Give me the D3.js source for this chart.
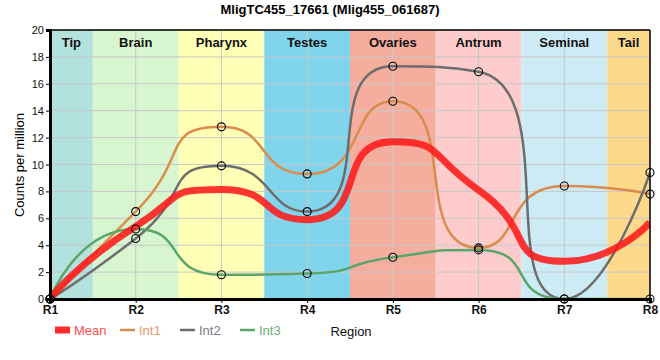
<!DOCTYPE html>
<html><head><meta charset="utf-8">
<script src="https://cdn.jsdelivr.net/npm/d3@7"></script>
<style>body{margin:0;background:#fff}svg{font-family:"Liberation Sans",Arial,sans-serif}</style>
</head><body><svg id="c" width="660" height="360"></svg>
<script>
const categories = ["R1","R2","R3","R4","R5","R6","R7","R8"];
const regions = ["Tip","Brain","Pharynx","Testes","Ovaries","Antrum","Seminal","Tail"];
const regionColors = ["#b3e1de","#d7f6cf","#ffffb5","#80d4ec","#f5ad9e","#fecccc","#cdebf5","#fdd98b"];
const mean = [0, 5.4, 8.15, 5.9, 11.7, 8.1, 2.8, 5.7];
const int1 = [0, 6.5, 12.8, 9.3, 14.7, 3.8, 8.4, 7.8];
const int2 = [0, 4.5, 9.9, 6.5, 17.3, 16.9, 0, 9.4];
const int3 = [0, 5.2, 1.8, 1.9, 3.1, 3.65, 0, 0];
const yTicks = [0,2,4,6,8,10,12,14,16,18,20];

const svg = d3.select("#c");
const L=50, R=650, T=30, B=299;
const x = d3.scaleLinear().domain([0, categories.length-1]).range([L,R]);
const y = d3.scaleLinear().domain([0,20]).range([B,T]);

// bands
regions.forEach((r,i)=>{
  const x0 = x(Math.max(0,i-0.5)), x1 = x(Math.min(categories.length-1,i+0.5));
  svg.append("rect").attr("x",x0).attr("y",T).attr("width",x1-x0).attr("height",B-T).attr("fill",regionColors[i]);
});
// grid
const g = svg.append("g");
yTicks.forEach(t=>g.append("line").attr("x1",L).attr("x2",R).attr("y1",y(t)).attr("y2",y(t)).attr("stroke","#c8c8c8").attr("stroke-width",1));
categories.forEach((c,i)=>g.append("line").attr("x1",x(i)).attr("x2",x(i)).attr("y1",T).attr("y2",B).attr("stroke","#c8c8c8").attr("stroke-width",1));
// region labels
regions.forEach((r,i)=>{
  const x0 = x(Math.max(0,i-0.5)), x1 = x(Math.min(categories.length-1,i+0.5));
  svg.append("text").attr("x",(x0+x1)/2).attr("y",47).attr("text-anchor","middle")
    .attr("font-size",13).attr("font-weight","bold").attr("fill","#111").text(r);
});

// smoothed path through the points, control points clamped between neighbours (pixel space)
function smoothPath(vals, smooth){
  const pts = vals.map((v,i)=>[x(i), y(v)]);
  const p = d3.path();
  const mn=Math.min, mx=Math.max;
  let cpx0, cpy0, prevX, prevY;
  pts.forEach(([px,py],i)=>{
    if(i===0){ p.moveTo(px,py); cpx0=px; cpy0=py; }
    else {
      let cpx1=px, cpy1=py, nx0=px, ny0=py;
      if(i<pts.length-1){
        const [nX,nY]=pts[i+1];
        let vx=nX-prevX, vy=nY-prevY;
        const dx0=px-prevX, dy0=py-prevY, dx1=nX-px, dy1=nY-py;
        const lp=Math.sqrt(dx0*dx0+dy0*dy0), ln=Math.sqrt(dx1*dx1+dy1*dy1);
        const r=ln/(ln+lp);
        nx0=px+vx*smooth*r; ny0=py+vy*smooth*r;
        nx0=mn(nx0,mx(nX,px)); ny0=mn(ny0,mx(nY,py));
        nx0=mx(nx0,mn(nX,px)); ny0=mx(ny0,mn(nY,py));
        vx=nx0-px; vy=ny0-py;
        cpx1=px-vx*lp/ln; cpy1=py-vy*lp/ln;
        cpx1=mn(cpx1,mx(prevX,px)); cpy1=mn(cpy1,mx(prevY,py));
        cpx1=mx(cpx1,mn(prevX,px)); cpy1=mx(cpy1,mn(prevY,py));
        vx=px-cpx1; vy=py-cpy1;
        nx0=px+vx*ln/lp; ny0=py+vy*ln/lp;
      }
      p.bezierCurveTo(cpx0,cpy0,cpx1,cpy1,px,py);
      cpx0=nx0; cpy0=ny0;
    }
    prevX=px; prevY=py;
  });
  return p.toString();
}
const SM = 0.65;

svg.append("clipPath").attr("id","clipP").append("rect").attr("x",L).attr("y",T).attr("width",R-L).attr("height",B-T);
const lines = svg.append("g").attr("clip-path","url(#clipP)");
lines.append("path").attr("d",smoothPath(int1,SM)).attr("fill","none").attr("stroke","#d98c4b").attr("stroke-width",2.5);
lines.append("path").attr("d",smoothPath(int2,SM)).attr("fill","none").attr("stroke","#6d6d6d").attr("stroke-width",2.5);
lines.append("path").attr("d",smoothPath(int3,SM)).attr("fill","none").attr("stroke","#5aa66a").attr("stroke-width",2.5);
lines.append("path").attr("d",smoothPath(mean,SM)).attr("fill","none").attr("stroke","#ff1a1a").attr("stroke-opacity",0.88).attr("stroke-width",7);

// markers
[int1,int2,int3].forEach(s=>{
  s.forEach((v,i)=>svg.append("circle").attr("cx",x(i)).attr("cy",y(v)).attr("r",4)
    .attr("fill","none").attr("stroke","#000").attr("stroke-width",1.1));
});

// frame
svg.append("line").attr("x1",L).attr("x2",R).attr("y1",T).attr("y2",T).attr("stroke","#000").attr("stroke-width",1.5);
svg.append("line").attr("x1",R).attr("x2",R).attr("y1",T).attr("y2",B).attr("stroke","#000").attr("stroke-width",1.5);

// axes
const yAxis = svg.append("g").attr("transform",`translate(${L},0)`)
  .call(d3.axisLeft(y).tickValues(yTicks).tickSize(4).tickPadding(2));
yAxis.select(".domain").attr("stroke-width",3);
yAxis.selectAll("text").attr("font-size",11).attr("fill","#111").attr("font-family","Liberation Sans, Arial, sans-serif");
const xAxis = svg.append("g").attr("transform",`translate(0,${B})`)
  .call(d3.axisBottom(x).tickValues(d3.range(categories.length)).tickFormat(i=>categories[i]).tickSize(4).tickPadding(2));
xAxis.select(".domain").attr("stroke-width",3);
xAxis.selectAll("text").attr("font-size",12).attr("font-weight","bold").attr("fill","#111").attr("font-family","Liberation Sans, Arial, sans-serif");

// title
svg.append("text").attr("x",330).attr("y",14).attr("text-anchor","middle").attr("font-size",13).attr("font-weight","bold").text("MligTC455_17661 (Mlig455_061687)");
// y label
svg.append("text").attr("transform","translate(24,165) rotate(-90)").attr("text-anchor","middle").attr("font-size",13).text("Counts per million");
// legend
const leg = [
  {n:"Mean", c:"#ff2a2a", t:"#ff4d4d", w:7, x:55},
  {n:"Int1", c:"#d98c4b", t:"#e49a65", w:2.5, x:120},
  {n:"Int2", c:"#6d6d6d", t:"#7b7b7b", w:2.5, x:180},
  {n:"Int3", c:"#5aa66a", t:"#6aae78", w:2.5, x:240}
];
leg.forEach(d=>{
  svg.append("line").attr("x1",d.x).attr("x2",d.x+15).attr("y1",330).attr("y2",330).attr("stroke",d.c).attr("stroke-width",d.w);
  svg.append("text").attr("x",d.x+19).attr("y",335).attr("font-size",13).attr("fill",d.t).text(d.n);
});
svg.append("text").attr("x",351).attr("y",336).attr("text-anchor","middle").attr("font-size",13).attr("fill","#111").text("Region");
</script></body></html>
